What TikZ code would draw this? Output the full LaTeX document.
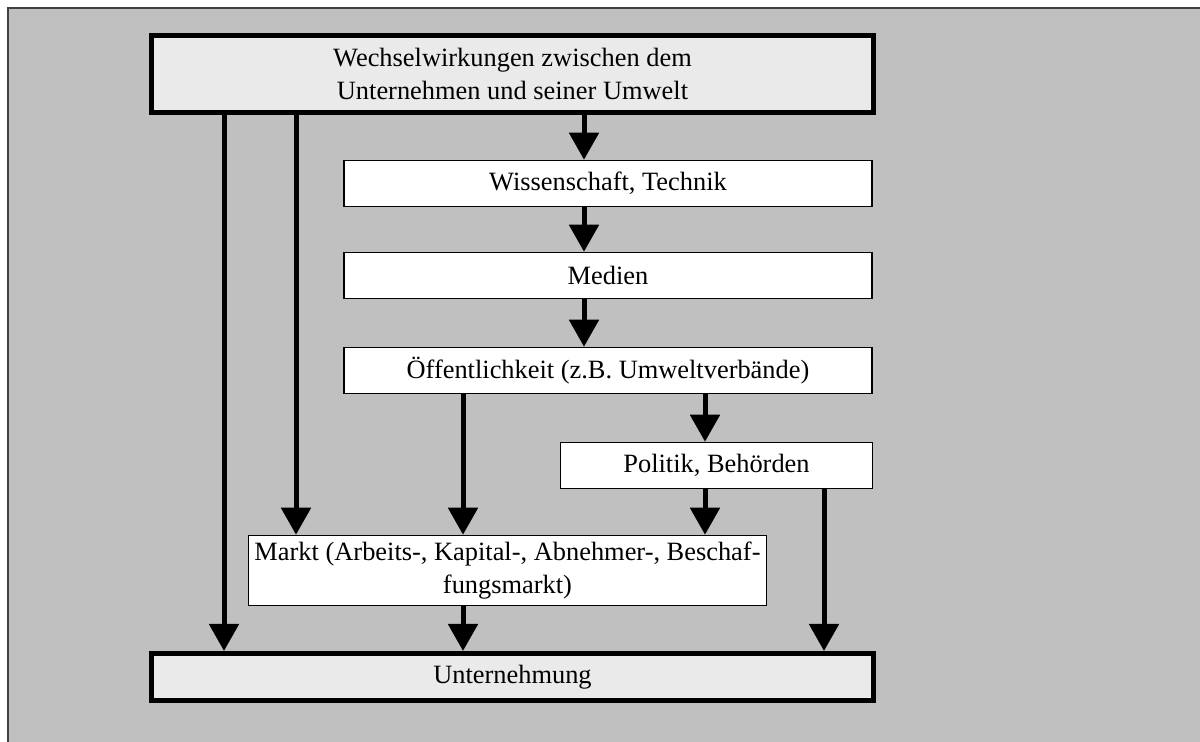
\documentclass[tikz,border=0pt]{standalone}
\usepackage{fontspec}
\setmainfont{Liberation Serif}
\usepackage{tikz}
\usetikzlibrary{arrows.meta, calc}
\tikzset{>={Triangle[width=14.5pt, length=13.5pt]}}
\definecolor{mygray1}{RGB}{192, 192, 192}
\definecolor{mygray2}{RGB}{234, 234, 234}
\definecolor{myframe}{RGB}{64, 64, 64}
\tikzset{
  dickbox/.style = {draw, line width = 2.5pt, fill = mygray2, align = center, inner sep = 0pt},
  duennbox/.style = {draw, line width = 0.75pt, fill = white, align = center, inner sep = 0pt},
  pfeil/.style = {->, line width = 2.5pt}
}

\begin{document}
\begin{tikzpicture}[x = 0.5pt, y = -0.5pt, font = \fontsize{13.2}{16.35}\selectfont]
\useasboundingbox (0,0) rectangle (1200,742);
\fill[mygray1] (8,8) rectangle (1200,742);
\draw[myframe, line width = 0.75pt] (8,742) -- (8,8) -- (1200,8);

% Kaesten
\node[dickbox, minimum width = 361pt, minimum height = 38.5pt] (wechsel) at (512.5, 74) {Wechselwirkungen zwischen dem\\Unternehmen und seiner Umwelt};
\node[duennbox, minimum width = 264pt, minimum height = 23pt] (wiss) at (608, 183.5) {Wissenschaft, Technik};
\node[duennbox, minimum width = 264pt, minimum height = 23pt] (medien) at (608, 275.5) {Medien};
\node[duennbox, minimum width = 264pt, minimum height = 23pt] (oeff) at (608, 370.5) {Öffentlichkeit (z.B. Umweltverbände)};
\node[duennbox, minimum width = 156pt, minimum height = 23pt] (politik) at (716.5, 465.5) {Politik, Behörden};
\node[duennbox, minimum width = 259pt, minimum height = 35pt] (markt) at (507.5, 570.5) {Markt (Arbeits-, Kapital-, Abnehmer-, Beschaf-\\fungsmarkt)};
\node[dickbox, minimum width = 361pt, minimum height = 23.5pt] (unt) at (512.5, 677) {Unternehmung};

% Spalten der Pfeile
\coordinate (s1) at (224, 0);
\coordinate (s2) at (296, 0);
\coordinate (s3) at (584, 0);
\coordinate (s4) at (463, 0);
\coordinate (s5) at (705, 0);
\coordinate (s6) at (824, 0);

\draw[pfeil] (wechsel.south -| s1) -- (unt.north -| s1);
\draw[pfeil] (wechsel.south -| s2) -- (markt.north -| s2);
\draw[pfeil] (wechsel.south -| s3) -- (wiss.north -| s3);
\draw[pfeil] (wiss.south -| s3) -- (medien.north -| s3);
\draw[pfeil] (medien.south -| s3) -- (oeff.north -| s3);
\draw[pfeil] (oeff.south -| s4) -- (markt.north -| s4);
\draw[pfeil] (oeff.south -| s5) -- (politik.north -| s5);
\draw[pfeil] (politik.south -| s5) -- (markt.north -| s5);
\draw[pfeil] (politik.south -| s6) -- (unt.north -| s6);
\draw[pfeil] (markt.south -| s4) -- (unt.north -| s4);
\end{tikzpicture}
\end{document}
